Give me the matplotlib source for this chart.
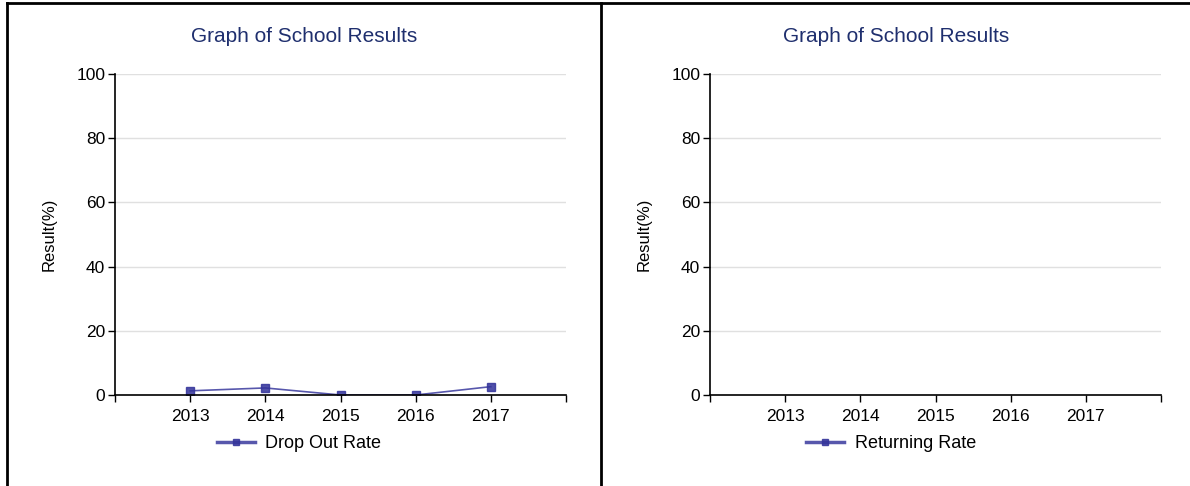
import numpy as np
import matplotlib
matplotlib.use('Agg')
import matplotlib.pyplot as plt
from matplotlib.lines import Line2D

plt.rcParams['font.family'] = ['Liberation Sans', 'DejaVu Sans']

years = [2013, 2014, 2015, 2016, 2017]
drop_out_rate = [1.3, 2.2, 0.0, 0.0, 2.6]
returning_rate = [np.nan, np.nan, np.nan, np.nan, np.nan]
y_ticks = [0, 20, 40, 60, 80, 100]

title = 'Graph of School Results'
title_color = '#1f2f6e'
line_color = '#3a3a9e'

W, H = 1190, 486
fig = plt.figure(figsize=(W / 100, H / 100), dpi=100)


def fx(px):
    return px / W


def fy(py):
    return 1 - py / H


# frame lines round the two panels
for (x0, y0, x1, y1) in [(7, 3, 1190, 3), (7, 3, 7, 486), (601, 3, 601, 486)]:
    fig.add_artist(Line2D([fx(x0), fx(x1)], [fy(y0), fy(y1)], color='black', lw=2))


def panel(left_px, series, label, center_px):
    ax = fig.add_axes([fx(left_px), fy(395), fx(451), (395 - 74) / H])
    ax.plot(years, series, color=line_color, lw=1.2, alpha=0.85,
            marker='s', markersize=6, markerfacecolor='#33339a', markeredgecolor='#33339a',
            label=label)
    ax.set_xlim(years[0] - 1, years[-1] + 1)
    ax.set_ylim(0, 100)
    ticks = [years[0] - 1] + years + [years[-1] + 1]
    ax.set_xticks(ticks)
    ax.set_xticklabels([''] + [str(y) for y in years] + [''], fontsize=12.5)
    ax.set_yticks(y_ticks)
    ax.set_yticklabels([str(v) for v in y_ticks], fontsize=12.5)
    ax.tick_params(axis='x', length=5, width=1, color='black', pad=5)
    ax.tick_params(axis='y', length=5, width=1, color='black', pad=2)
    for s in ['top', 'right']:
        ax.spines[s].set_visible(False)
    for s in ['left', 'bottom']:
        ax.spines[s].set_linewidth(1.2)
    ax.grid(axis='y', color='#e0e0e0', lw=1)
    ax.set_axisbelow(True)
    ax.set_ylabel('Result(%)', fontsize=12)
    ax.yaxis.set_label_coords(-58 / 451, 0.5)
    fig.text(fx(center_px), fy(36), title, color=title_color, fontsize=15,
             ha='center', va='center')
    leg = ax.legend(loc='center', bbox_to_anchor=(fx(center_px - 5), fy(444)),
                    bbox_transform=fig.transFigure, frameon=False, fontsize=13,
                    handlelength=2.1, handletextpad=0.6, markerscale=0.8)
    for h in leg.get_lines():
        h.set_linewidth(2.5)
    return ax


panel(115, drop_out_rate, 'Drop Out Rate', 304)
panel(710, returning_rate, 'Returning Rate', 896)

fig.savefig('out.png', dpi=100)
